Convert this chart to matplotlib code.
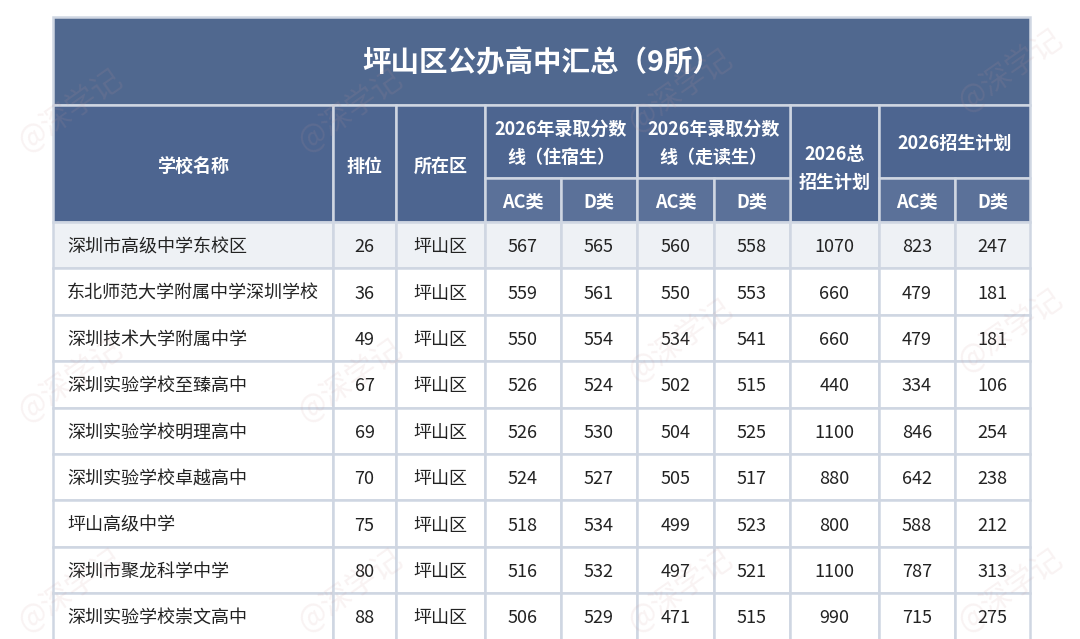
import matplotlib
matplotlib.use("Agg")
import matplotlib.pyplot as plt
from matplotlib.patches import Rectangle

plt.rcParams['font.family'] = ['Noto Sans CJK SC', 'DejaVu Sans']

title = "坪山区公办高中汇总（9所）"
schools = ["深圳市高级中学东校区", "东北师范大学附属中学深圳学校", "深圳技术大学附属中学",
           "深圳实验学校至臻高中", "深圳实验学校明理高中", "深圳实验学校卓越高中",
           "坪山高级中学", "深圳市聚龙科学中学", "深圳实验学校崇文高中"]
ranks = [26, 36, 49, 67, 69, 70, 75, 80, 88]
district = ["坪山区"] * 9
board_ac = [567, 559, 550, 526, 526, 524, 518, 516, 506]
board_d = [565, 561, 554, 524, 530, 527, 534, 532, 529]
walk_ac = [560, 550, 534, 502, 504, 505, 499, 497, 471]
walk_d = [558, 553, 541, 515, 525, 517, 523, 521, 515]
total_plan = [1070, 660, 660, 440, 1100, 880, 800, 1100, 990]
plan_ac = [823, 479, 479, 334, 846, 642, 588, 787, 715]
plan_d = [247, 181, 181, 106, 254, 238, 212, 313, 275]

W, H = 1080, 639
fig = plt.figure(figsize=(W/100, H/100), dpi=100)
ax = fig.add_axes([0, 0, 1, 1])
ax.set_xlim(0, W); ax.set_ylim(H, 0); ax.axis('off')

xs = [53, 333, 396, 485, 561, 637, 714, 790, 879, 955, 1030]
hdr = "#4d6590"; sub = "#5b7199"; line = "#cfd6e2"; white = "white"

def rect(x0, y0, x1, y1, fc):
    ax.add_patch(Rectangle((x0, y0), x1-x0, y1-y0, facecolor=fc, edgecolor=line, lw=1.8))

def txt(x, y, s, **kw):
    ax.text(x, y, s, ha=kw.pop('ha', 'center'), va='center', **kw)

# title
rect(xs[0], 17, xs[-1], 105, "#50688f")
txt((xs[0]+xs[-1])/2, 63, title, color=white, fontsize=20.5, fontweight='bold')

y0, ym, y1 = 105, 178, 222
hk = dict(color=white, fontsize=13, fontweight='bold')
for i, lab in [(0, "学校名称"), (1, "排位"), (2, "所在区")]:
    rect(xs[i], y0, xs[i+1], y1, hdr); txt((xs[i]+xs[i+1])/2, (y0+y1)/2+3, lab, **hk)
rect(xs[7], y0, xs[8], y1, hdr); txt((xs[7]+xs[8])/2, (y0+y1)/2+5, "2026总\n招生计划", linespacing=1.6, **hk)
for i, lab in [(3, "2026年录取分数\n线（住宿生）"), (5, "2026年录取分数\n线（走读生）"), (8, "2026招生计划")]:
    rect(xs[i], y0, xs[i+2], ym, hdr); txt((xs[i]+xs[i+2])/2, (y0+ym)/2+2, lab, linespacing=1.6, **hk)
for i in [3, 4, 5, 6, 8, 9]:
    lab = "AC类" if i in (3, 5, 8) else "D类"
    rect(xs[i], ym, xs[i+1], y1, sub); txt((xs[i]+xs[i+1])/2, (ym+y1)/2+2, lab, **hk)

rh = 46.4
cols = [schools, ranks, district, board_ac, board_d, walk_ac, walk_d, total_plan, plan_ac, plan_d]
for r in range(len(schools)):
    top = y1 + r*rh
    fc = "#eef1f5" if r == 0 else white
    for c in range(10):
        rect(xs[c], top, xs[c+1], top+rh, fc)
        v = str(cols[c][r])
        if c == 0:
            txt(xs[0]+14, top+rh/2+2, v, ha='left', color="#222222", fontsize=13)
        else:
            txt((xs[c]+xs[c+1])/2, top+rh/2+2, v, color="#222222", fontsize=13)

# watermarks
for (x, y) in [(70, 110), (350, 110), (680, 90), (1010, 70), (70, 380), (350, 380), (680, 340),
               (1010, 330), (70, 590), (350, 590), (680, 590), (1010, 590)]:
    ax.text(x, y, "@深学记", color="#cc9999", alpha=0.12, fontsize=22, rotation=35,
            ha='center', va='center')

fig.savefig("out.png", dpi=100)
